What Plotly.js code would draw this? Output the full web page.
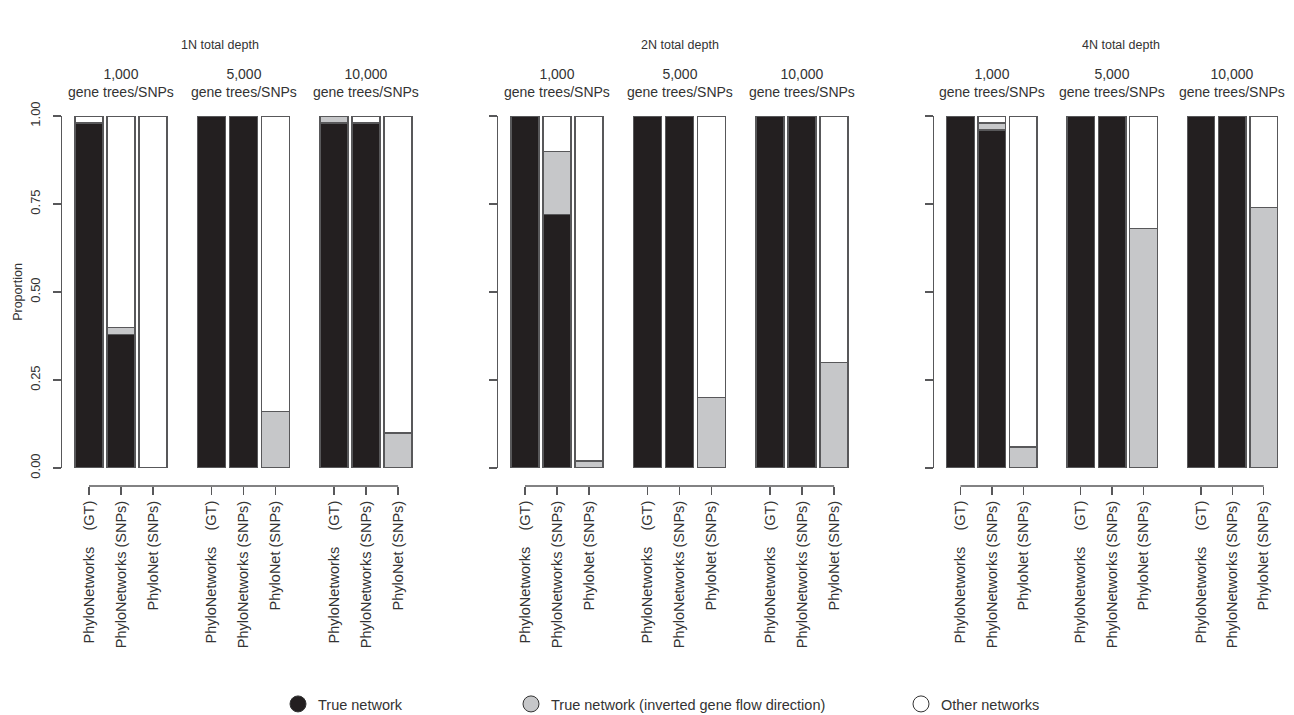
<!DOCTYPE html>
<html>
<head>
<meta charset="utf-8">
<script src="https://cdn.plot.ly/plotly-3.0.1.min.js"></script>
<style>html,body{margin:0;padding:0;background:#fff;}#chart{width:1294px;height:715px;}</style>
</head>
<body>
<div id="chart"></div>
<script>
// ---- data ----
const panels = ["1N total depth", "2N total depth", "4N total depth"];
const groups = ["1,000", "5,000", "10,000"];
const methods = ["PhyloNetworks\u00a0\u00a0\u00a0\u00a0(GT)", "PhyloNetworks (SNPs)", "PhyloNet (SNPs)"];
const seriesNames = ["True network", "True network (inverted gene flow direction)", "Other networks"];
// values per panel, 9 bars each: [1000 GT, 1000 SNPs, 1000 PhyloNet, 5000 ..., 10000 ...]
const true1N  = [0.98, 0.38, 0.00, 1.00, 1.00, 0.00, 0.98, 0.98, 0.00];
const inv1N   = [0.00, 0.02, 0.00, 0.00, 0.00, 0.16, 0.02, 0.00, 0.10];
const other1N = [0.02, 0.60, 1.00, 0.00, 0.00, 0.84, 0.00, 0.02, 0.90];
const true2N  = [1.00, 0.72, 0.00, 1.00, 1.00, 0.00, 1.00, 1.00, 0.00];
const inv2N   = [0.00, 0.18, 0.02, 0.00, 0.00, 0.20, 0.00, 0.00, 0.30];
const other2N = [0.00, 0.10, 0.98, 0.00, 0.00, 0.80, 0.00, 0.00, 0.70];
const true4N  = [1.00, 0.96, 0.00, 1.00, 1.00, 0.00, 1.00, 1.00, 0.00];
const inv4N   = [0.00, 0.02, 0.06, 0.00, 0.00, 0.68, 0.00, 0.00, 0.74];
const other4N = [0.00, 0.02, 0.94, 0.00, 0.00, 0.32, 0.00, 0.00, 0.26];
const yTicks = [0, 0.25, 0.5, 0.75, 1];
const yTickText = ["0.00", "0.25", "0.50", "0.75", "1.00"];

const panelData = [[true1N, inv1N, other1N], [true2N, inv2N, other2N], [true4N, inv4N, other4N]];

// ---- style / layout ----
const W = 1294, H = 715;
const colors = ["#231f20", "#c6c7c9", "#ffffff"];
const edge = "#58585a";
const txt = "#333333";
const font = "Liberation Sans, Arial, sans-serif";
const groupStep = 3.83;
const px = v => v / W, py = v => 1 - v / H;

const xpos = [];
groups.forEach((g, gi) => methods.forEach((m, mi) => xpos.push(gi * groupStep + mi)));
const xlabels = [];
groups.forEach(() => methods.forEach(m => xlabels.push(m)));

const traces = [];
const layout = {
  width: W, height: H, margin: {l: 0, r: 0, t: 0, b: 0, autoexpand: false},
  paper_bgcolor: "#fff", plot_bgcolor: "rgba(0,0,0,0)",
  barmode: "stack", bargap: 0, showlegend: true,
  font: {family: font, color: txt, size: 13},
  annotations: [], shapes: []
};

const unit = 32;              // px per bar slot
const leftPad = 27, rightPad = 340;
panels.forEach((p, pi) => {
  const c0 = 89 + 436 * pi;
  const xa = pi === 0 ? "x" : "x" + (pi + 1);
  const ya = pi === 0 ? "y" : "y" + (pi + 1);
  const xk = pi === 0 ? "xaxis" : "xaxis" + (pi + 1);
  const yk = pi === 0 ? "yaxis" : "yaxis" + (pi + 1);
  panelData[pi].forEach((vals, si) => {
    traces.push({
      type: "bar", x: xpos, y: vals, width: 0.875, xaxis: xa, yaxis: ya,
      name: seriesNames[si], showlegend: false,
      marker: {color: colors[si], line: {color: edge, width: 1.4}},
      hoverinfo: "skip"
    });
  });
  layout[xk] = {
    domain: [px(c0 - leftPad), px(c0 + rightPad)],
    range: [-leftPad / unit, rightPad / unit],
    anchor: "free", position: py(486),
    showline: false, showgrid: false, zeroline: false,
    ticks: "outside", ticklen: 8, tickwidth: 1.4, tickcolor: edge,
    tickvals: xpos, ticktext: xlabels, tickangle: -90,
    tickfont: {size: 14.5, color: txt, family: font}, fixedrange: true
  };
  layout[yk] = {
    domain: [py(468), py(116)], range: [0, 1], anchor: xa,
    showline: true, linecolor: edge, linewidth: 1.4,
    showgrid: false, zeroline: false,
    ticks: "outside", ticklen: 8, tickwidth: 1.4, tickcolor: edge,
    tickvals: yTicks, ticktext: yTickText, tickangle: -90,
    showticklabels: pi === 0, ticklabelstandoff: 7,
    tickfont: {size: 13, color: txt, family: font}, fixedrange: true,
    title: pi === 0 ? {text: "Proportion", font: {size: 12.5, color: txt, family: font}, standoff: 3} : {text: ""}
  };
  // bracket line for x axis from first to last tick
  layout.shapes.push({type: "line", xref: xa, yref: "paper",
    x0: xpos[0], x1: xpos[xpos.length - 1], y0: py(486), y1: py(486),
    line: {color: edge, width: 1.4}});
  // group labels
  groups.forEach((g, gi) => {
    layout.annotations.push({text: g + "<br>gene trees/SNPs", xref: xa, yref: "paper",
      x: xpos[gi * 3 + 1], y: py(83), xanchor: "center", yanchor: "middle",
      showarrow: false, font: {size: 14, color: txt, family: font}});
  });
});

// panel titles
const titleX = [220, 680, 1121];
panels.forEach((p, pi) => {
  layout.annotations.push({text: p, xref: "paper", yref: "paper", x: px(titleX[pi]), y: py(45),
    xanchor: "center", yanchor: "middle", showarrow: false, font: {size: 12.5, color: txt, family: font}});
});

// legend entries (circle swatches)
const legendKeys = ["legend", "legend2", "legend3"];
const legendX = [278, 511, 901];
seriesNames.forEach((n, si) => {
  traces.push({type: "scatter", mode: "markers", x: [null], y: [null], xaxis: "x", yaxis: "y",
    name: n, legend: legendKeys[si], showlegend: true, hoverinfo: "skip",
    marker: {symbol: "circle", size: 18, color: colors[si], line: {color: "#333", width: 1}}});
  layout[legendKeys[si]] = {x: px(legendX[si]), y: py(704), xanchor: "left", yanchor: "middle",
    orientation: "h", bgcolor: "rgba(0,0,0,0)", borderwidth: 0,
    font: {size: 14.5, color: txt, family: font}, itemsizing: "trace"};
});

Plotly.newPlot("chart", traces, layout, {displayModeBar: false, staticPlot: true});
</script>
</body>
</html>
